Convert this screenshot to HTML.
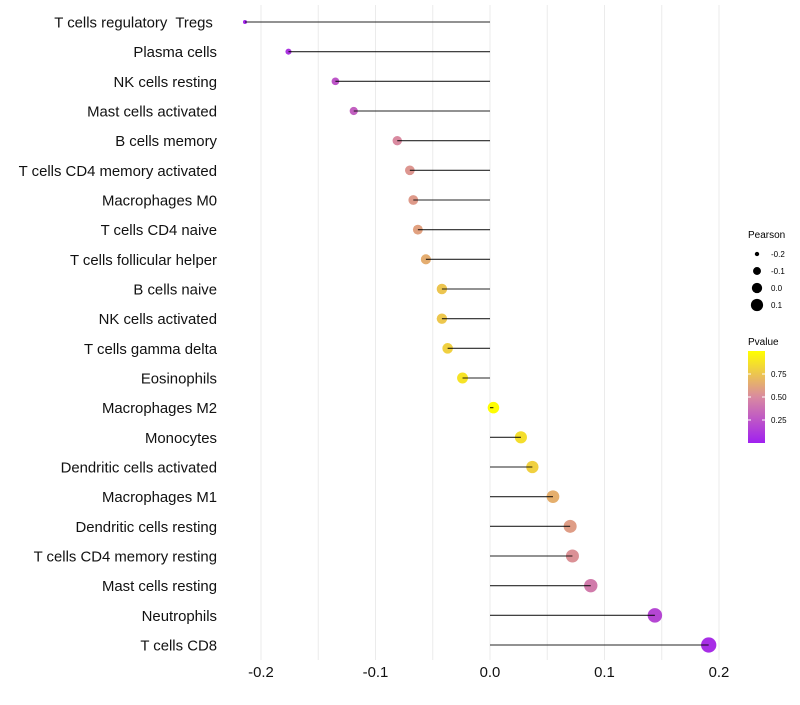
<!DOCTYPE html>
<html><head><meta charset="utf-8"><style>
body{margin:0;background:#fff;font-family:"Liberation Sans",sans-serif}
text{white-space:pre}
</style></head><body>
<svg id="chart" width="800" height="700" xmlns="http://www.w3.org/2000/svg" font-family="Liberation Sans, sans-serif">
<g id="grid"></g><g id="marks"></g><g id="labels"></g><g id="legend"></g>
</svg>
<script>
const categories=["T cells regulatory  Tregs ","Plasma cells","NK cells resting","Mast cells activated","B cells memory","T cells CD4 memory activated","Macrophages M0","T cells CD4 naive","T cells follicular helper","B cells naive","NK cells activated","T cells gamma delta","Eosinophils","Macrophages M2","Monocytes","Dendritic cells activated","Macrophages M1","Dendritic cells resting","T cells CD4 memory resting","Mast cells resting","Neutrophils","T cells CD8"];
const pearson=[-0.214,-0.176,-0.135,-0.119,-0.081,-0.070,-0.067,-0.063,-0.056,-0.042,-0.042,-0.037,-0.024,0.003,0.027,0.037,0.055,0.070,0.072,0.088,0.144,0.191];
const pvalue=[0.03,0.1,0.25,0.3,0.5,0.55,0.57,0.6,0.65,0.75,0.76,0.8,0.88,0.99,0.86,0.8,0.66,0.58,0.53,0.43,0.18,0.06];
const xTicks=[-0.2,-0.1,0.0,0.1,0.2];
const xTickLabels=["-0.2","-0.1","0.0","0.1","0.2"];
const sizeLegend=[-0.2,-0.1,0.0,0.1];
const colorLegend=[0.25,0.5,0.75];
const NS="http://www.w3.org/2000/svg";
const xs=v=>490+v*1145;
const ys=i=>22+i*(623/21);
const rs=v=>Math.sqrt(4+135*Math.max(0,v+0.214));
function mix(a,b,t){return a.map((c,i)=>Math.round(c+(b[i]-c)*t));}
function col(p){const s0=[160,32,240],s1=[217,138,160],s2=[255,255,0];const c=p<0.5?mix(s0,s1,p/0.5):mix(s1,s2,(p-0.5)/0.5);return `rgb(${c.join(',')})`;}
function el(t,a,parent){const e=document.createElementNS(NS,t);for(const k in a)e.setAttribute(k,a[k]);parent.appendChild(e);return e;}
const grid=document.getElementById('grid'),marks=document.getElementById('marks'),labels=document.getElementById('labels'),legend=document.getElementById('legend');
for(let v=-0.2;v<=0.2001;v+=0.05){const g=el('line',{x1:xs(v),x2:xs(v),y1:5,y2:660,stroke:'#ebebeb','stroke-width':1},grid);

}
categories.forEach((c,i)=>{
const d=el('circle',{cx:xs(pearson[i]),cy:ys(i),r:rs(pearson[i]),fill:col(pvalue[i])},marks);


const l=el('line',{x1:xs(0),x2:xs(pearson[i]),y1:ys(i),y2:ys(i),stroke:'#000','stroke-width':1.1,'stroke-opacity':0.85},marks);


const t=el('text',{x:217,y:ys(i)+5.5,'text-anchor':'end','font-size':14.9,fill:'#111'},labels);t.textContent=c;


});
xTicks.forEach((v,i)=>{const t=el('text',{x:xs(v),y:677,'text-anchor':'middle','font-size':14.9,fill:'#111'},labels);t.textContent=xTickLabels[i];

});
let t=el('text',{x:748,y:238,'font-size':10,fill:'#000'},legend);t.textContent='Pearson';


sizeLegend.forEach((v,i)=>{const y=254+i*17;
const c=el('circle',{cx:757,cy:y,r:rs(v)*0.9,fill:'#000'},legend);


const tt=el('text',{x:771,y:y+3,'font-size':8,fill:'#000'},legend);tt.textContent=v.toFixed(1);

});
t=el('text',{x:748,y:345,'font-size':10,fill:'#000'},legend);t.textContent='Pvalue';


const defs=el('defs',{},legend);const lg=el('linearGradient',{id:'pg',x1:0,y1:1,x2:0,y2:0},defs);
[0,0.25,0.5,0.75,1].forEach(s=>el('stop',{offset:s,'stop-color':col(s)},lg));
const bar=el('rect',{x:748,y:351,width:17,height:92,fill:'url(#pg)'},legend);


colorLegend.forEach(v=>{const y=443-v*92;
el('line',{x1:748,x2:751,y1:y,y2:y,stroke:'#fff'},legend);el('line',{x1:762,x2:765,y1:y,y2:y,stroke:'#fff'},legend);
const tt=el('text',{x:771,y:y+3,'font-size':8,fill:'#000'},legend);tt.textContent=v.toFixed(2);

});
</script>
</body></html>
